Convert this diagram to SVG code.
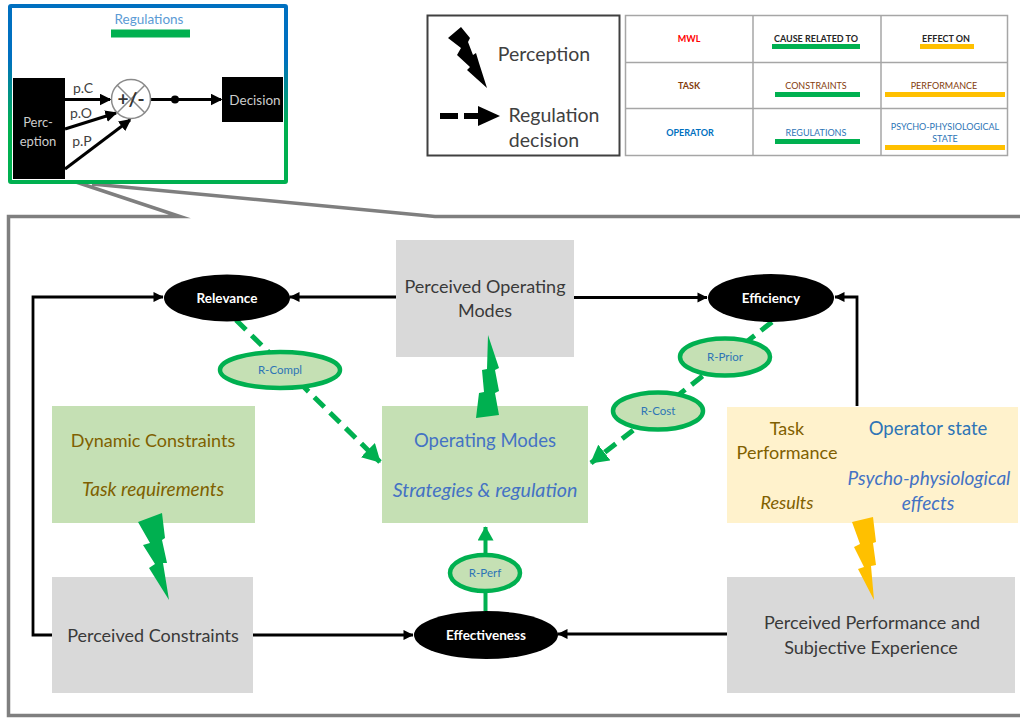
<svg xmlns="http://www.w3.org/2000/svg" width="1020" height="718" viewBox="0 0 1020 718">
<style>
text{font-family:Lato,"Liberation Sans",sans-serif;text-anchor:middle}
.k{fill:#3a3a3a;font-size:18px}
.w{fill:#fff;font-size:13.500px;font-weight:700}
.g{fill:#d9d9d9}.lg{fill:#c5e0b4}.y{fill:#fff2cc}
.br{fill:#7f6000;font-size:18px}
.bl{fill:#4472c4;font-size:18.500px}
.sb{fill:#2e75b6;font-size:18.500px}
.i{font-style:italic}
.con{fill:none;stroke:#000;stroke-width:2.800}
.das{fill:none;stroke:#00b050;stroke-width:5;stroke-dasharray:14 8}
.pill{fill:#c5e0b4;stroke:#00b050;stroke-width:4.500}
.pt{fill:#2e75b6;font-size:11.500px}
.t{font-size:9px;font-weight:700}
.t2{font-size:9px}
.grid{stroke:#a6a6a6;stroke-width:1.500;fill:none}
.gb{fill:#00b050}.yb{fill:#ffc000}
.pl{fill:#3f3f3f;font-size:14px}
.lt{fill:#404040;font-size:19.500px}
</style>
<defs>
<linearGradient id="bg" x1="0" y1="0" x2="0" y2="1"><stop offset="0" stop-color="#0070c0"/><stop offset=".3" stop-color="#0070c0"/><stop offset=".68" stop-color="#00b050"/><stop offset="1" stop-color="#00b050"/></linearGradient>
<marker id="a" markerWidth="3.600" markerHeight="3.600" refX="3.400" refY="1.800" orient="auto" markerUnits="strokeWidth"><path d="M0 0L3.600 1.800L0 3.600z"/></marker>
<marker id="b" markerWidth="4" markerHeight="4" refX="3.500" refY="2" orient="auto" markerUnits="strokeWidth"><path d="M0 0L4 2L0 4z"/></marker>
<marker id="c" markerWidth="3.600" markerHeight="4" refX="3.400" refY="2" orient="auto" markerUnits="strokeWidth"><path d="M0 0L3.600 2L0 4z" fill="#00b050"/></marker>
</defs>

<path id="frame" d="M1020 216.500H435L92 184M76 182L180 216.500H8.500V715.500H1020" fill="none" stroke="#7f7f7f" stroke-width="3.500" stroke-miterlimit="12"/>

<g id="zoom-inset">
<rect x="10" y="6" width="276" height="176" fill="#fff" stroke="url(#bg)" stroke-width="4" rx="1"/>
<text x="149" y="24" fill="#5b9bd5" font-size="13.500">Regulations</text>
<rect x="111" y="29.500" width="79" height="8" fill="#00b050"/>
<rect x="13" y="78" width="52" height="101" fill="#000"/>
<text x="38" y="127" fill="#ccc" font-size="13">Perc-</text>
<text x="38" y="146" fill="#ccc" font-size="13">eption</text>
<rect x="222" y="77" width="61" height="45" fill="#000"/>
<text x="255" y="105" fill="#ccc" font-size="13.500">Decision</text>
<g stroke="#000" stroke-width="3" fill="none">
<path d="M65 99.500H110" marker-end="url(#b)"/>
<path d="M65 129L116 113" marker-end="url(#b)"/>
<path d="M65 169L130 120" marker-end="url(#b)"/>
<path d="M151 99.500H221" marker-end="url(#b)"/>
</g>
<circle cx="175" cy="99.500" r="4" fill="#000"/>
<circle cx="131" cy="99" r="19.500" fill="#fff" stroke="#8a8a8a" stroke-width="1.500"/>
<path d="M117 85L145 113M145 85L117 113" stroke="#8a8a8a" stroke-width="1.500"/>
<text x="131" y="106" fill="#333" font-size="19" font-weight="700">+/-</text>
<text class="pl" x="83" y="93">p.C</text>
<text class="pl" x="81" y="118">p.O</text>
<text class="pl" x="82" y="146">p.P</text>
</g>

<g id="legend">
<rect x="427.500" y="15.500" width="192" height="140" fill="#fff" stroke="#404040" stroke-width="2"/>
<path d="M461 27L470 38L468 42L473 55L476 53L479 63L487 88L467 70L470 67L457 55L461 48L448 38Z" fill="#000"/>
<text class="lt" x="544" y="61">Perception</text>
<path d="M440 116H458M464 116H478" stroke="#000" stroke-width="6" fill="none"/>
<path d="M478 106L500 116L478 126Z" fill="#000"/>
<text class="lt" x="554" y="122">Regulation</text>
<text class="lt" x="544" y="147">decision</text>
</g>

<g id="table">
<rect x="625" y="15" width="382" height="140" fill="#fff"/>
<path class="grid" d="M625.500 15.500H1007.500V155.500H625.500ZM625 62.500H1007M625 108.500H1007M753 15V155M881 15V155"/>
<text class="t" x="689" y="42" fill="#ff0000">MWL</text>
<text class="t" x="816" y="42" fill="#262626">CAUSE RELATED TO</text>
<rect x="772" y="44" width="88" height="5" fill="#00b050"/>
<text class="t" x="946" y="42" fill="#262626">EFFECT ON</text>
<rect x="920" y="44" width="54" height="5" fill="#ffc000"/>
<text class="t" x="689" y="89" fill="#843c0c">TASK</text>
<text class="t2" x="816" y="89" fill="#843c0c">CONSTRAINTS</text>
<rect x="775" y="92" width="85" height="5" fill="#00b050"/>
<text class="t2" x="944" y="89" fill="#843c0c">PERFORMANCE</text>
<rect x="885" y="92" width="120" height="5" fill="#ffc000"/>
<text class="t" x="690" y="136" fill="#0070c0">OPERATOR</text>
<text class="t2" x="816" y="136" fill="#2e75b6">REGULATIONS</text>
<rect x="775" y="139" width="85" height="5" fill="#00b050"/>
<text class="t2" x="945" y="130" fill="#2e75b6">PSYCHO-PHYSIOLOGICAL</text>
<text class="t2" x="945" y="142" fill="#2e75b6">STATE</text>
<rect x="885" y="145" width="120" height="5" fill="#ffc000"/>
</g>

<g id="connectors">
<path class="con" d="M396 297H290" marker-end="url(#a)"/>
<path class="con" d="M574 297.500H707" marker-end="url(#a)"/>
<path class="con" d="M52 635H33V297H163" marker-end="url(#a)"/>
<path class="con" d="M253 635H413" marker-end="url(#a)"/>
<path class="con" d="M727 634H558" marker-end="url(#a)"/>
<path class="con" d="M857 406V297H835" marker-end="url(#a)"/>
<path class="das" d="M236 320L380 462" marker-end="url(#c)"/>
<path class="das" d="M772 322L591 463" marker-end="url(#c)"/>
<path d="M485.500 611V527" fill="none" stroke="#00b050" stroke-width="4" marker-end="url(#c)"/>
</g>

<g id="perceived-operating-modes"><rect class="g" x="396" y="240" width="178" height="117"/>
<text class="k" x="485" y="293">Perceived Operating</text><text class="k" x="485" y="317">Modes</text></g>
<g id="relevance"><ellipse cx="227" cy="298" rx="63" ry="23.500" fill="#000"/><text class="w" x="227" y="303">Relevance</text></g>
<g id="efficiency"><ellipse cx="771" cy="298" rx="63" ry="24" fill="#000"/><text class="w" x="771" y="303">Efficiency</text></g>
<g id="effectiveness"><ellipse cx="486" cy="635" rx="72" ry="24" fill="#000"/><text class="w" x="486" y="640">Effectiveness</text></g>

<g id="r-compl"><ellipse class="pill" cx="280" cy="370" rx="60" ry="18"/><text class="pt" x="280" y="374">R-Compl</text></g>
<g id="r-prior"><ellipse class="pill" cx="725" cy="357" rx="45" ry="18.500"/><text class="pt" x="725" y="361">R-Prior</text></g>
<g id="r-cost"><ellipse class="pill" cx="658" cy="411" rx="45" ry="18.500"/><text class="pt" x="658" y="415">R-Cost</text></g>
<g id="r-perf"><ellipse class="pill" cx="485" cy="573" rx="35" ry="18"/><text class="pt" x="485" y="577">R-Perf</text></g>

<g id="dynamic-constraints"><rect class="lg" x="52" y="406" width="203" height="117"/>
<text class="br" x="153" y="447">Dynamic Constraints</text><text class="br i" x="153" y="496" style="font-size:19px">Task requirements</text></g>
<g id="operating-modes"><rect class="lg" x="382" y="406" width="206" height="117"/>
<text class="bl" x="485" y="447">Operating Modes</text><text class="bl i" x="485" y="497" style="font-size:19.700px">Strategies &amp; regulation</text></g>
<g id="performance-state"><rect class="y" x="727" y="407" width="291" height="116"/>
<text class="br" x="787" y="435">Task</text><text class="br" x="787" y="459">Performance</text><text class="br i" x="787" y="509">Results</text>
<text class="sb" x="928" y="435">Operator state</text><text class="bl i" x="929" y="485" style="font-size:19px">Psycho-physiological</text><text class="bl i" x="928" y="510" style="font-size:19px">effects</text></g>
<g id="perceived-constraints"><rect class="g" x="52" y="577" width="201" height="116"/>
<text class="k" x="153" y="642">Perceived Constraints</text></g>
<g id="perceived-performance"><rect class="g" x="727" y="577" width="288" height="116"/>
<text class="k" x="872" y="629">Perceived Performance and</text><text class="k" x="871" y="654">Subjective Experience</text></g>

<path id="bolt-top" class="gb" d="M488 335L499 368L495 370L499 391L495 393L499 415L476 418L479 393L484 392L482 370L487 369Z"/>
<path id="bolt-left" class="gb" d="M138 522L162 513L165 538L162 540L167 563L163 563L169 600L149 568L155 564L143 545L150 543Z"/>
<path id="bolt-right" class="yb" d="M852 522L873 517L876 542L873 543L876 565L871 566L874 600L858 569L864 567L854 547L860 544Z"/>
</svg>
